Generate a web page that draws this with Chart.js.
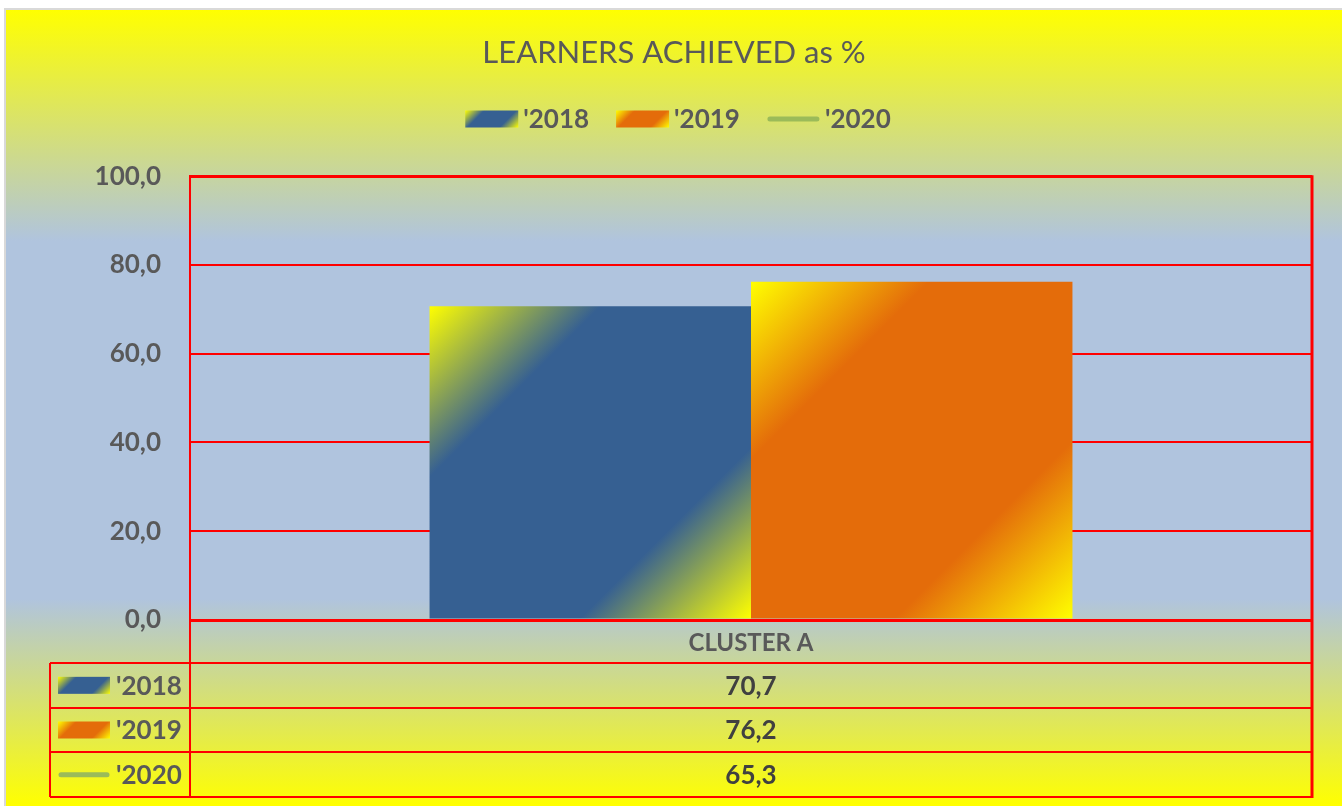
<!DOCTYPE html>
<html>
<head>
<meta charset="utf-8">
<script src="https://cdn.jsdelivr.net/npm/chart.js@4"></script>
<style>
  html, body { margin: 0; padding: 0; background: #fff; }
  #wrap { position: absolute; left: 4px; top: 8px; width: 1336px; height: 796px; border: 2px solid #d9d9d9; border-right: none; border-bottom: none; }
  canvas { display: block; }
</style>
</head>
<body>
<div id="wrap"><canvas id="chart" width="1336" height="796"></canvas></div>
<script>
// chart data
const categories = ['CLUSTER A'];
const seriesNames = ["'2018", "'2019", "'2020"];
const values2018 = [70.7];
const values2019 = [76.2];
const values2020 = [65.3];
const yMin = 0, yMax = 100, yStep = 20;

const YELLOW = '#ffff00';
const TEXT = '#595959';
const RED = '#ff0000';
const FONT = 'Lato, "Open Sans", sans-serif';

function fmt(v) {
    return v.toFixed(1).replace('.', ',');
}

// diagonal yellow -> colour -> yellow gradient over a box
function diagGradient(ctx, x, y, w, h, color) {
    const d = (w + h) / 2;
    const g = ctx.createLinearGradient(x, y, x + d, y + d);
    g.addColorStop(0, YELLOW);
    g.addColorStop(0.27, color);
    g.addColorStop(0.73, color);
    g.addColorStop(1, YELLOW);
    return g;
}

function drawSwatch(ctx, ds, x, y, w, h) {
    if (ds.type === 'line') {
        ctx.save();
        ctx.strokeStyle = ds.borderColor;
        ctx.lineWidth = 5;
        ctx.lineCap = 'round';
        ctx.beginPath();
        ctx.moveTo(x + 3, y + h / 2);
        ctx.lineTo(x + w - 3, y + h / 2);
        ctx.stroke();
        ctx.restore();
    } else {
        ctx.fillStyle = diagGradient(ctx, x, y, w, h, ds.baseColor);
        ctx.fillRect(x, y, w, h);
    }
}

const backdrop = {
    id: 'backdrop',
    beforeDraw(chart) {
        const { ctx, width, height } = chart;
        const g = ctx.createLinearGradient(0, 0, 0, height);
        g.addColorStop(0, YELLOW);
        g.addColorStop(0.29, '#b0c4de');
        g.addColorStop(0.74, '#b0c4de');
        g.addColorStop(1, YELLOW);
        ctx.save();
        ctx.fillStyle = g;
        ctx.fillRect(0, 0, width, height);
        ctx.restore();
    },
    beforeDatasetsDraw(chart) {
        // per-bar diagonal gradient fill
        chart.data.datasets.forEach((ds, i) => {
            if (ds.type === 'line') return;
            const meta = chart.getDatasetMeta(i);
            meta.data.forEach(el => {
                const { x, y, base, width } = el.getProps(['x', 'y', 'base', 'width'], true);
                const g = diagGradient(chart.ctx, x - width / 2, y, width, base - y, ds.baseColor);
                el.options = Object.assign({}, el.options, { backgroundColor: g });
            });
        });
    }
};

const legendAndTable = {
    id: 'legendAndTable',
    afterDraw(chart) {
        const { ctx, chartArea } = chart;
        const sets = chart.data.datasets;
        ctx.save();
        ctx.font = 'bold 26px ' + FONT;
        ctx.textBaseline = 'middle';
        ctx.textAlign = 'left';

        // legend row
        const sw = 53, sh = 17, gap = 5, itemGap = 27;
        const widths = sets.map(ds => sw + gap + ctx.measureText(ds.label).width);
        const total = widths.reduce((a, b) => a + b, 0) + itemGap * (sets.length - 1);
        let lx = 672 - total / 2;
        const ly = 109;
        sets.forEach((ds, i) => {
            drawSwatch(ctx, ds, lx, ly - sh / 2, sw, sh);
            ctx.fillStyle = TEXT;
            ctx.fillText(ds.label, lx + sw + gap, ly + 1);
            lx += widths[i] + itemGap;
        });

        // data table
        const left = 44;
        const tableTop = chartArea.bottom + 43;
        const tableBottom = 787;
        const rowH = (tableBottom - tableTop) / sets.length;
        const midX = (chartArea.left + chartArea.right) / 2;

        ctx.strokeStyle = RED;
        ctx.lineWidth = 2;
        ctx.beginPath();
        for (let r = 0; r <= sets.length; r++) {
            const yy = Math.round(tableTop + r * rowH);
            ctx.moveTo(left, yy);
            ctx.lineTo(chartArea.right, yy);
        }
        ctx.moveTo(left, tableTop);
        ctx.lineTo(left, tableBottom);
        ctx.moveTo(chartArea.left, chartArea.bottom);
        ctx.lineTo(chartArea.left, tableBottom);
        ctx.stroke();

        ctx.lineWidth = 3;
        ctx.beginPath();
        ctx.moveTo(chartArea.right, chartArea.top - 1);
        ctx.lineTo(chartArea.right, tableBottom + 1);
        ctx.stroke();

        sets.forEach((ds, i) => {
            const cy = tableTop + rowH * (i + 0.5);
            drawSwatch(ctx, ds, 52, cy - sh / 2, 52, sh);
            ctx.fillStyle = TEXT;
            ctx.textAlign = 'left';
            ctx.fillText(ds.label, 110, cy + 1);
            ctx.textAlign = 'center';
            ctx.fillStyle = '#404040';
            ctx.fillText(fmt(ds.data[0]), midX, cy + 1);
        });
        ctx.restore();
    }
};

new Chart(document.getElementById('chart'), {
    type: 'bar',
    data: {
        labels: categories,
        datasets: [
            { label: seriesNames[0], data: values2018, baseColor: '#366092', backgroundColor: '#366092', order: 1 },
            { label: seriesNames[1], data: values2019, baseColor: '#e46c0a', backgroundColor: '#e46c0a', order: 1 },
            { label: seriesNames[2], data: values2020, type: 'line', borderColor: '#9bbb59', backgroundColor: '#9bbb59', borderWidth: 4.5, pointRadius: 0, order: 0 }
        ]
    },
    options: {
        responsive: false,
        animation: false,
        categoryPercentage: 0.573,
        barPercentage: 1,
        layout: { padding: { left: 30, right: 30, top: 0, bottom: 143 } },
        plugins: {
            legend: { display: false },
            tooltip: { enabled: false },
            title: {
                display: true,
                text: 'LEARNERS ACHIEVED as %',
                color: TEXT,
                font: { family: FONT, size: 31, weight: 'normal' },
                padding: { top: 24, bottom: 105 }
            }
        },
        scales: {
            x: {
                grid: { display: false },
                border: { display: false },
                ticks: { color: TEXT, font: { family: FONT, size: 24, weight: 'bold' }, padding: 1 },
                afterFit(scale) { scale.height = 43; }
            },
            y: {
                min: yMin,
                max: yMax,
                ticks: {
                    stepSize: yStep,
                    color: TEXT,
                    font: { family: FONT, size: 26, weight: 'bold' },
                    padding: 29,
                    callback: v => fmt(v)
                },
                grid: {
                    color: RED,
                    drawTicks: false,
                    lineWidth: c => (c.tick && (c.tick.value === 0 || c.tick.value === 100) ? 3 : 2)
                },
                border: { display: true, color: RED, width: 2 },
                afterFit(scale) { scale.width = 154; }
            }
        }
    },
    plugins: [backdrop, legendAndTable]
});
</script>
</body>
</html>
